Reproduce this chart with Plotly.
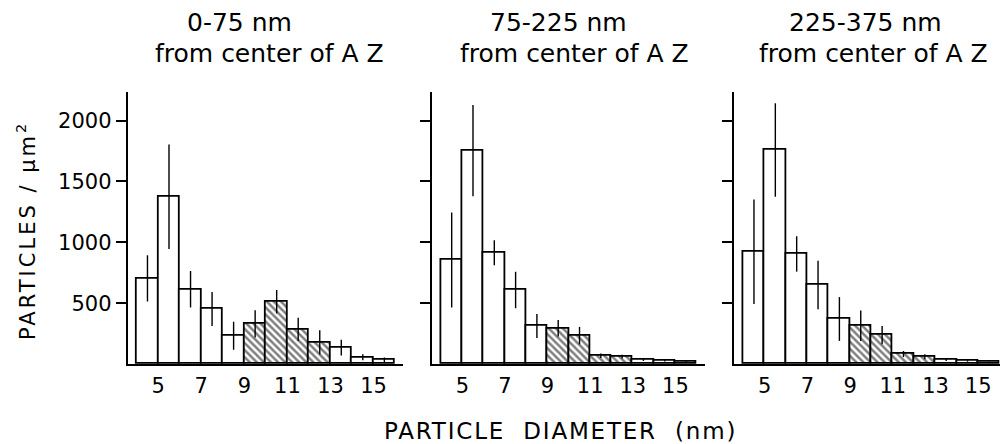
import plotly.graph_objects as go

# ---- data ----
bin_left = [4, 5, 6, 7, 8, 9, 10, 11, 12, 13, 14, 15]
hatched = [False, False, False, False, False, True, True, True, True, False, False, False]

p1_values = [704, 1375, 614, 452, 233, 329, 512, 285, 178, 134, 55, 33]
p1_errors = [190, 430, 150, 140, 115, 112, 96, 95, 100, 65, 25, 20]
p2_values = [855, 1753, 915, 608, 312, 293, 233, 68, 60, 33, 27, 19]
p2_errors = [390, 375, 103, 150, 98, 68, 72, 18, 15, 8, 6, 5]
p3_values = [923, 1759, 904, 649, 370, 315, 238, 82, 60, 33, 25, 16]
p3_errors = [430, 385, 145, 200, 180, 125, 75, 25, 20, 8, 6, 5]

panel_titles = ["0-75 nm", "75-225 nm", "225-375 nm"]
panel_subtitle = "from center of A Z"
x_ticks = [5, 7, 9, 11, 13, 15]
y_ticks = [500, 1000, 1500, 2000]
x_title = "PARTICLE DIAMETER (nm)"
y_title = "PARTICLES / μm"

W, H = 1000, 444

def px(x):
    return x / W

def py(y):
    return (H - y) / H

panels = [
    dict(vals=p1_values, errs=p1_errors, dom=(127.7, 403.3), rng=(3.582, 16.38)),
    dict(vals=p2_values, errs=p2_errors, dom=(432.3, 705.0), rng=(3.59, 16.39)),
    dict(vals=p3_values, errs=p3_errors, dom=(734.3, 1000.0), rng=(3.579, 16.02)),
]

centers = [b + 0.5 for b in bin_left]
shapes_pat = ["\\" if h else "" for h in hatched]

fig = go.Figure()
tick_font = dict(family="DejaVu Sans", size=21, color="black")

for i, p in enumerate(panels):
    xa = "x" if i == 0 else f"x{i+1}"
    ya = "y" if i == 0 else f"y{i+1}"
    fig.add_trace(go.Bar(
        x=centers, y=p["vals"], width=1.0,
        xaxis=xa, yaxis=ya,
        marker=dict(color="white", line=dict(color="black", width=1.8),
                    pattern=dict(shape=shapes_pat, fgcolor="black", bgcolor="white",
                                 size=5, solidity=0.5)),
        error_y=dict(type="data", array=p["errs"], visible=True,
                     color="black", thickness=1.4, width=0),
        showlegend=False, hoverinfo="skip",
    ))
    xkey = "xaxis" if i == 0 else f"xaxis{i+1}"
    ykey = "yaxis" if i == 0 else f"yaxis{i+1}"
    fig.layout[xkey] = dict(
        domain=[px(p["dom"][0]), px(p["dom"][1])], range=list(p["rng"]),
        anchor=ya, showline=True, linecolor="black", linewidth=2,
        showgrid=False, zeroline=False, tickmode="array", tickvals=x_ticks,
        ticktext=[str(t) for t in x_ticks], ticks="outside", ticklen=2,
        tickcolor="rgba(0,0,0,0)", tickfont=tick_font, automargin=False,
    )
    fig.layout[ykey] = dict(
        domain=[py(364), py(91.7)], range=[0, 2238], anchor=xa,
        showline=True, linecolor="black", linewidth=2, showgrid=False,
        zeroline=False, tickmode="array", tickvals=y_ticks,
        ticktext=[str(t) for t in y_ticks], ticks="outside", ticklen=10,
        tickwidth=1.5, tickcolor="black", tickfont=tick_font,
        showticklabels=(i == 0), automargin=False,
    )

title_font = dict(family="DejaVu Sans", size=25, color="black")
line1_left = [185, 488, 787]
line2_left = [153, 458, 757]
ann = []
for i in range(3):
    ann.append(dict(text=panel_titles[i], x=px(line1_left[i]), y=py(22.5),
                    xref="paper", yref="paper", xanchor="left", yanchor="middle",
                    showarrow=False, font=title_font))
    ann.append(dict(text=panel_subtitle, x=px(line2_left[i]), y=py(53),
                    xref="paper", yref="paper", xanchor="left", yanchor="middle",
                    showarrow=False, font=title_font))

xt = x_title.replace(" ", "\u00a0\u00a0")
ann.append(dict(text=f'<span style="letter-spacing:1.8px">{xt}</span>',
                x=px(382), y=py(431), xref="paper", yref="paper",
                xanchor="left", yanchor="middle", showarrow=False,
                font=dict(family="DejaVu Sans", size=23, color="black")))
ann.append(dict(text=f'<span style="letter-spacing:3px">{y_title}<sup>2</sup></span>',
                x=px(26), y=py(231), xref="paper", yref="paper",
                xanchor="center", yanchor="middle", textangle=-90, showarrow=False,
                font=dict(family="DejaVu Sans", size=21, color="black")))

fig.update_layout(
    width=W, height=H, margin=dict(l=0, r=0, t=0, b=0, autoexpand=False),
    paper_bgcolor="white", plot_bgcolor="white",
    annotations=ann, bargap=0,
)

fig.write_html("out.html", config={"displayModeBar": False},
               post_script="document.body.style.margin='0px';document.body.style.padding='0px';")
